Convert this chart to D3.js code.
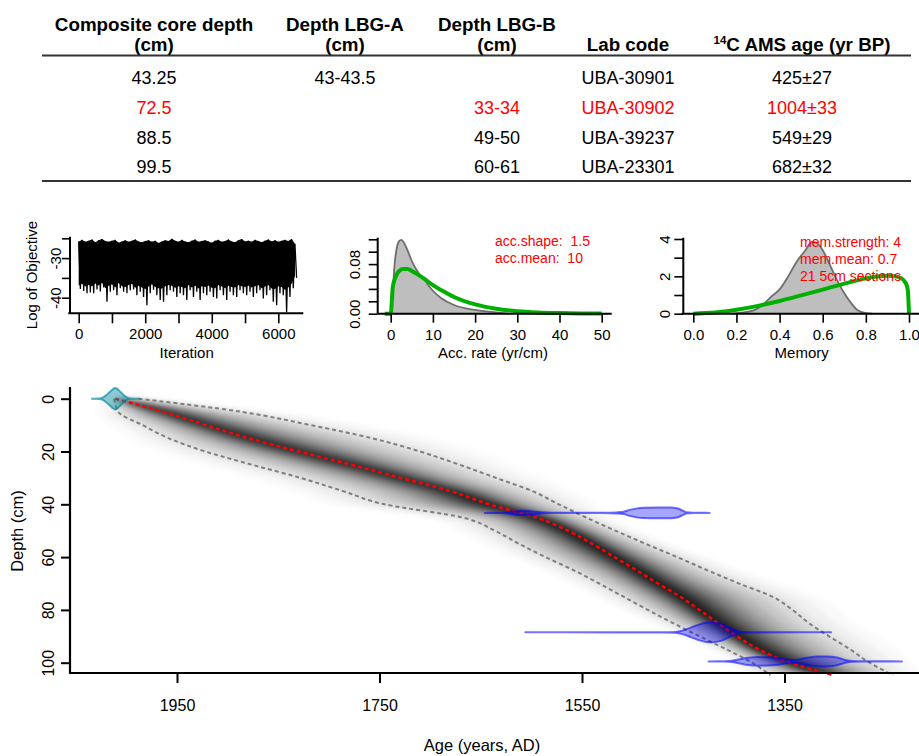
<!DOCTYPE html>
<html><head><meta charset="utf-8">
<script src="https://cdn.jsdelivr.net/npm/d3@7"></script>
<style>body{margin:0;background:#fff;} svg{display:block;font-family:"Liberation Sans",Arial,sans-serif;}</style>
</head><body><svg id="c" width="919" height="756"></svg>
<script>
// ================= DATA =================
// table
const headLine1 = ["Composite core depth", "Depth LBG-A", "Depth LBG-B", "", ""];
const headLine2 = ["(cm)", "(cm)", "(cm)", "Lab code", "C AMS age (yr BP)"];
const compositeDepth = ["43.25", "72.5", "88.5", "99.5"];
const depthA = ["43-43.5", "", "", ""];
const depthB = ["", "33-34", "49-50", "60-61"];
const labCode = ["UBA-30901", "UBA-30902", "UBA-39237", "UBA-23301"];
const c14Age = ["425±27", "1004±33", "549±29", "682±32"];
const rejected = [false, true, false, false];

// MCMC trace (per 100 iterations: top edge, dense-body bottom, lowest spike)
const traceHigh = [-25.8,-25.4,-25.9,-25.6,-25.3,-26.0,-25.5,-25.2,-25.7,-25.9,-25.6,-25.4,-26.1,-25.8,-25.5,-25.9,-25.6,-25.3,-25.8,-26.0,-25.7,-25.5,-25.9,-25.6,-26.2,-25.8,-25.5,-25.7,-25.1,-25.6,-25.9,-25.4,-25.8,-26.0,-25.6,-25.3,-25.9,-25.7,-25.5,-25.8,-26.1,-25.6,-25.4,-25.9,-25.7,-25.3,-25.8,-26.0,-25.5,-25.2,-25.8,-25.6,-25.9,-25.4,-25.7,-26.0,-25.6,-25.3,-25.8,-25.5,-25.9,-25.6,-25.4,-25.7,-25.2,-26.4];
const traceBody = [-36.9,-36.5,-37.2,-36.8,-37.1,-36.4,-36.9,-36.2,-37.6,-37.0,-36.6,-37.4,-36.3,-37.1,-37.3,-36.8,-36.5,-37.5,-37.0,-37.4,-37.8,-37.2,-36.6,-37.3,-37.6,-37.7,-37.1,-36.8,-37.0,-37.5,-37.1,-37.3,-37.6,-36.8,-37.4,-37.0,-37.7,-37.1,-37.3,-36.9,-37.5,-37.6,-36.8,-37.2,-37.6,-37.0,-37.3,-37.4,-36.8,-37.1,-37.3,-37.0,-37.4,-37.1,-36.8,-37.6,-37.2,-36.8,-37.7,-37.8,-37.1,-37.3,-38.0,-37.4,-36.5,-34.5];
const traceLow = [-37.8,-38.3,-38.9,-38.7,-38.9,-37.9,-38.4,-37.4,-41.0,-38.5,-38.1,-39.4,-37.6,-38.5,-38.9,-38.1,-37.9,-39.4,-38.5,-39.8,-41.9,-38.9,-38.0,-39.4,-40.6,-41.0,-39.4,-38.1,-38.5,-39.8,-38.9,-39.4,-40.6,-38.1,-39.8,-38.5,-40.6,-38.9,-39.4,-38.5,-39.8,-40.2,-38.1,-39.4,-40.6,-38.5,-39.4,-39.8,-38.1,-38.9,-39.4,-38.5,-39.8,-38.9,-38.1,-40.2,-39.4,-38.1,-41.0,-41.9,-38.9,-39.4,-43.7,-39.8,-37.6,-35.0];
const traceStep = 100;

// accumulation rate prior (green) and posterior (grey)
const accPriorX = [-1.4,0,0.5,1,2,3,4,5,6,8,10,12,15,20,25,30,35,40,45,50];
const accPriorY = [0,0,0.043,0.056,0.069,0.072,0.072,0.069,0.065,0.056,0.046,0.038,0.027,0.015,0.008,0.004,0.002,0.001,0.0005,0.0003];
const accPostX = [0,0.5,1,1.5,2,2.5,3,4,5,6,7,8,9,10,12,15,20,25,28];
const accPostY = [0,0.04,0.085,0.108,0.117,0.119,0.116,0.102,0.085,0.072,0.062,0.055,0.045,0.037,0.025,0.014,0.006,0.002,0];

// memory prior (green) and posterior (grey)
const memPriorX = [0,0.1,0.2,0.3,0.4,0.5,0.6,0.7,0.8,0.85,0.9,0.95,0.97,0.98,0.99,0.995,1];
const memPriorY = [0,0.06,0.21,0.42,0.68,0.98,1.29,1.61,1.89,1.99,2.03,1.97,1.85,1.72,1.5,1.2,0];
const memPostX = [0.18,0.22,0.28,0.32,0.36,0.4,0.44,0.48,0.52,0.55,0.57,0.6,0.63,0.66,0.7,0.73,0.76,0.8,0.83];
const memPostY = [0,0.05,0.18,0.45,0.9,1.3,2.0,2.8,3.4,3.85,3.8,3.4,2.7,1.95,1.1,0.6,0.2,0.03,0];

// age-depth model: depth (cm), 95% young bound, mean, 95% old bound (yr AD)
const depthGrid = [0,5,10,15,20,25,30,35,40,45,50,55,60,65,70,75,80,85,90,95,100,104.7];
const ageYoung = [2012,2008,1984,1958,1922,1876,1828,1786,1745,1668,1636,1612,1586,1558,1533,1509,1485,1460,1434,1407,1382,1364];
const ageMean  = [2011,1963,1922,1879,1830,1778,1729,1680,1642,1595,1564,1540,1518,1496,1475,1453,1434,1416,1397,1375,1345,1302];
const ageOld   = [1988,1886,1818,1757,1710,1671,1635,1599,1573,1546,1517,1487,1456,1426,1395,1362,1342,1326,1306,1285,1266,1243];

// calibrated dates: [age AD, relative density]
const dateDepths = [0, 43.25, 88.5, 99.5];
const surfaceCal = [[2034,0],[2027,0.02],[2024,0.08],[2020,0.35],[2016,0.7],[2013,0.98],[2011,1.08],[2009,0.98],[2006,0.7],[2003,0.4],[2000,0.15],[1997,0.03],[1987,0]];
const date1Cal = [[1646,0],[1630,0.01],[1622,0.08],[1614,0.2],[1606,0.22],[1598,0.15],[1590,0.06],[1580,0.02],[1560,0.01],[1530,0.01],[1516,0.05],[1509,0.12],[1503,0.3],[1496,0.45],[1490,0.52],[1475,0.54],[1462,0.53],[1456,0.46],[1451,0.25],[1447,0.06],[1440,0.01],[1424,0]];
const date3Cal = [[1606,0],[1520,0.005],[1470,0.01],[1458,0.04],[1450,0.2],[1442,0.5],[1434,0.8],[1426,0.98],[1422,1.0],[1416,0.93],[1410,0.75],[1404,0.45],[1398,0.18],[1392,0.04],[1380,0.01],[1304,0]];
const date4Cal = [[1425,0],[1410,0.01],[1402,0.06],[1394,0.22],[1386,0.37],[1376,0.43],[1366,0.41],[1356,0.33],[1348,0.2],[1342,0.14],[1336,0.2],[1328,0.36],[1318,0.48],[1308,0.5],[1298,0.38],[1290,0.14],[1283,0.03],[1270,0.01],[1234,0]];

// ticks
const ageTicks = [1950, 1750, 1550, 1350];
const depthTicks = [0, 20, 40, 60, 80, 100];
const iterTicks = [0,1000,2000,3000,4000,5000,6000];
const iterLabels = [0,2000,4000,6000];
const objTicks = [-25,-30,-35,-40];
const objLabels = [-30,-40];
const accXTicks = [0,10,20,30,40,50];
const accYTicks = [0,0.02,0.04,0.06,0.08,0.10,0.12];
const accYLabels = [0, 0.08];
const memXTicks = [0,0.2,0.4,0.6,0.8,1.0];
const memYTicks = [0,1,2,3,4];
const memYLabels = [0,2,4];
const accText = ["acc.shape:  1.5", "acc.mean:  10"];
const memText = ["mem.strength: 4", "mem.mean: 0.7", "21 5cm sections"];

// ================= DRAW =================
const svg = d3.select("#c");
const defs = svg.append("defs");
const fam = '"Liberation Sans", Arial, sans-serif';

// ---------- table ----------
const colX = [154, 345, 497, 628, 802];
const tbl = svg.append("g").attr("font-family", fam);
headLine1.forEach((t, i) => {
  if (t) tbl.append("text").attr("x", colX[i]).attr("y", 30.5).attr("text-anchor", "middle")
    .attr("font-weight", "bold").attr("font-size", 18.8).text(t);
});
headLine2.forEach((t, i) => {
  const el = tbl.append("text").attr("x", colX[i]).attr("y", 50.5).attr("text-anchor", "middle")
    .attr("font-weight", "bold").attr("font-size", 18.8);
  if (i === 4) {
    el.append("tspan").attr("font-size", 11.5).attr("dy", -7).text("14");
    el.append("tspan").attr("dy", 7).text(t);
  } else el.text(t);
});
tbl.append("line").attr("x1", 42).attr("x2", 911).attr("y1", 55.5).attr("y2", 55.5).attr("stroke", "#333").attr("stroke-width", 2);
tbl.append("line").attr("x1", 42).attr("x2", 911).attr("y1", 181).attr("y2", 181).attr("stroke", "#333").attr("stroke-width", 2);
const rowY = [83.5, 114, 143.5, 173];
const cols = [compositeDepth, depthA, depthB, labCode, c14Age];
cols.forEach((col, ci) => col.forEach((t, ri) => {
  if (!t) return;
  tbl.append("text").attr("x", colX[ci]).attr("y", rowY[ri]).attr("text-anchor", "middle")
    .attr("font-size", 18).attr("fill", rejected[ri] ? "#ff0000" : "#000").text(t);
}));

// helper to style axes
function styleAxis(g, fs) {
  g.select(".domain").remove();
  g.selectAll(".tick line").attr("stroke", "#000").attr("stroke-width", 1.6);
  g.selectAll(".tick text").attr("font-size", fs).attr("font-family", fam).attr("fill", "#000");
}
function rotateYLabels(g, base) {
  g.selectAll(".tick text").attr("transform", "rotate(-90)").attr("x", 0).attr("y", base)
    .attr("dy", 0).attr("text-anchor", "middle");
}
const green = "#00b000";
const smallTickPad = 5.5, smallTitleY = 358;

// ---------- trace panel ----------
{
  const xT = d3.scaleLinear().domain([0, 6000]).range([78.7, 278.3]);
  const yT = d3.scaleLinear().domain([-25, -40]).range([238.3, 297.7]);
  const g = svg.append("g");
  const area = d3.area().x((d, i) => xT(i * traceStep)).y0((d, i) => yT(traceBody[i])).y1((d, i) => yT(traceHigh[i]));
  g.append("path").attr("d", area(traceHigh)).attr("fill", "#000");
  const zz = [];
  traceHigh.forEach((h, i) => { zz.push([i * traceStep, h]); zz.push([i * traceStep + traceStep / 2, traceLow[i]]); });
  g.append("path").attr("d", d3.line().x(d => xT(d[0])).y(d => yT(d[1]))(zz))
    .attr("fill", "none").attr("stroke", "#000").attr("stroke-width", 1.3);
  g.append("line").attr("x1", 68.3).attr("x2", 303.3).attr("y1", 313.3).attr("y2", 313.3).attr("stroke", "#000").attr("stroke-width", 2);
  g.append("line").attr("x1", 70).attr("x2", 70).attr("y1", 236.7).attr("y2", 313.3).attr("stroke", "#000").attr("stroke-width", 2);
  const ax = g.append("g").attr("transform", "translate(0,313.3)")
    .call(d3.axisBottom(xT).tickValues(iterTicks).tickSize(10).tickPadding(smallTickPad)
      .tickFormat(d => iterLabels.includes(d) ? d : ""));
  styleAxis(ax, 15);
  const ay = g.append("g").attr("transform", "translate(70,0)")
    .call(d3.axisLeft(yT).tickValues(objTicks).tickSize(8).tickFormat(d => objLabels.includes(d) ? d : ""));
  styleAxis(ay, 15); rotateYLabels(ay, -9);
  g.append("text").attr("x", 186.7).attr("y", smallTitleY).attr("text-anchor", "middle").attr("font-size", 15).text("Iteration");
  g.append("text").attr("transform", "translate(37,275) rotate(-90)").attr("text-anchor", "middle").attr("font-size", 15).text("Log of Objective");
}

// ---------- acc rate panel ----------
{
  const xA = d3.scaleLinear().domain([0, 50]).range([390.7, 601.7]);
  const yA = d3.scaleLinear().domain([0, 0.12]).range([313.7, 239.3]);
  const g = svg.append("g");
  const post = accPostX.map((v, i) => [v, accPostY[i]]);
  g.append("path").attr("d", d3.area().x(d => xA(d[0])).y0(yA(0)).y1(d => yA(d[1])).curve(d3.curveMonotoneX)(post))
    .attr("fill", "#bebebe");
  g.append("path").attr("d", d3.line().x(d => xA(d[0])).y(d => yA(d[1])).curve(d3.curveMonotoneX)(post))
    .attr("fill", "none").attr("stroke", "#6e6e6e").attr("stroke-width", 1.8);
  const prior = accPriorX.map((v, i) => [v, accPriorY[i]]);
  g.append("path").attr("d", d3.line().x(d => xA(d[0])).y(d => yA(d[1])).curve(d3.curveMonotoneX)(prior))
    .attr("fill", "none").attr("stroke", green).attr("stroke-width", 4);
  g.append("line").attr("x1", 377.7).attr("x2", 611.7).attr("y1", 313.7).attr("y2", 313.7).attr("stroke", "#000").attr("stroke-width", 2);
  g.append("line").attr("x1", 377.7).attr("x2", 377.7).attr("y1", 237.7).attr("y2", 313.7).attr("stroke", "#000").attr("stroke-width", 2);
  const ax = g.append("g").attr("transform", "translate(0,313.7)")
    .call(d3.axisBottom(xA).tickValues(accXTicks).tickSize(9).tickPadding(smallTickPad + 0.7));
  styleAxis(ax, 15);
  const ay = g.append("g").attr("transform", "translate(377.7,0)")
    .call(d3.axisLeft(yA).tickValues(accYTicks).tickSize(9)
      .tickFormat(d => accYLabels.some(l => Math.abs(l - d) < 1e-9) ? d3.format(".2f")(d) : ""));
  styleAxis(ay, 15); rotateYLabels(ay, -17.7);
  g.append("text").attr("x", 493).attr("y", smallTitleY).attr("text-anchor", "middle").attr("font-size", 15).text("Acc. rate (yr/cm)");
  accText.forEach((t, i) => g.append("text").attr("x", 495).attr("y", 246 + i * 17).attr("font-size", 14).attr("fill", "#ff0000").style("white-space", "pre").text(t));
}

// ---------- memory panel ----------
{
  const xM = d3.scaleLinear().domain([0, 1]).range([693.3, 909]);
  const yM = d3.scaleLinear().domain([0, 4]).range([313.7, 239]);
  const g = svg.append("g");
  const post = memPostX.map((v, i) => [v, memPostY[i]]);
  g.append("path").attr("d", d3.area().x(d => xM(d[0])).y0(yM(0)).y1(d => yM(d[1])).curve(d3.curveMonotoneX)(post))
    .attr("fill", "#bebebe");
  g.append("path").attr("d", d3.line().x(d => xM(d[0])).y(d => yM(d[1])).curve(d3.curveMonotoneX)(post))
    .attr("fill", "none").attr("stroke", "#6e6e6e").attr("stroke-width", 1.8);
  const prior = memPriorX.map((v, i) => [v, memPriorY[i]]);
  g.append("path").attr("d", d3.line().x(d => xM(d[0])).y(d => yM(d[1])).curve(d3.curveMonotoneX)(prior))
    .attr("fill", "none").attr("stroke", green).attr("stroke-width", 4);
  g.append("line").attr("x1", 681.7).attr("x2", 919).attr("y1", 313.7).attr("y2", 313.7).attr("stroke", "#000").attr("stroke-width", 2);
  g.append("line").attr("x1", 683.3).attr("x2", 683.3).attr("y1", 237.7).attr("y2", 313.7).attr("stroke", "#000").attr("stroke-width", 2);
  const ax = g.append("g").attr("transform", "translate(0,313.7)")
    .call(d3.axisBottom(xM).tickValues(memXTicks).tickSize(9).tickPadding(smallTickPad + 0.7).tickFormat(d3.format(".1f")));
  styleAxis(ax, 15);
  const ay = g.append("g").attr("transform", "translate(683.3,0)")
    .call(d3.axisLeft(yM).tickValues(memYTicks).tickSize(9).tickFormat(d => memYLabels.includes(d) ? d : ""));
  styleAxis(ay, 15); rotateYLabels(ay, -13.3);
  g.append("text").attr("x", 801.7).attr("y", smallTitleY).attr("text-anchor", "middle").attr("font-size", 15).text("Memory");
  memText.forEach((t, i) => g.append("text").attr("x", 800).attr("y", 246.5 + i * 17).attr("font-size", 14).attr("fill", "#ff0000").text(t));
}

// ---------- main age-depth panel ----------
{
  const x = d3.scaleLinear().domain([1950, 1350]).range([177, 784.5]);
  const y = d3.scaleLinear().domain([0, 100]).range([398.7, 662.7]);
  const rows = depthGrid.map((d, i) => ({ d, yo: ageYoung[i], m: ageMean[i], o: ageOld[i] }));

  defs.append("clipPath").attr("id", "mainClip").append("rect").attr("x", 71).attr("y", 380).attr("width", 848).attr("height", 292);
  defs.append("clipPath").attr("id", "lineClip").append("rect").attr("x", 71).attr("y", 380).attr("width", 848).attr("height", 297);
  defs.append("filter").attr("id", "blur").attr("x", "-10%").attr("y", "-10%").attr("width", "120%").attr("height", "120%")
    .append("feGaussianBlur").attr("stdDeviation", 2.5);
  const grad = defs.append("linearGradient").attr("id", "cloudGrad").attr("gradientUnits", "userSpaceOnUse")
    .attr("x1", 0).attr("x2", 0).attr("y1", y(0)).attr("y2", y(104.7));
  [[0, 0.85], [0.3, 0.85], [0.42, 1], [1, 1]].forEach(s =>
    grad.append("stop").attr("offset", s[0]).attr("stop-color", "#000").attr("stop-opacity", s[1]));

  const cloud = svg.append("g").attr("clip-path", "url(#mainClip)").append("g").attr("filter", "url(#blur)");
  const bandFrac = [1.5, 1.3, 1.12, 1.0, 0.85, 0.7, 0.56, 0.44, 0.33, 0.23, 0.14, 0.07];
  const bandOp = [0.025, 0.035, 0.045, 0.06, 0.08, 0.1, 0.13, 0.17, 0.22, 0.28, 0.35, 0.35];
  bandFrac.forEach((f, k) => {
    const ar = d3.area().y(r => y(r.d))
      .x0(r => x(r.m + (r.yo - r.m) * f)).x1(r => x(r.m + (r.o - r.m) * f)).curve(d3.curveMonotoneY);
    cloud.append("path").attr("d", ar(rows)).attr("fill", "url(#cloudGrad)").attr("fill-opacity", bandOp[k]);
  });

  const lines = svg.append("g").attr("clip-path", "url(#lineClip)");
  const ln = key => d3.line().y(r => y(r.d)).x(r => x(r[key])).curve(d3.curveMonotoneY)(rows);
  lines.append("path").attr("d", ln("yo")).attr("fill", "none").attr("stroke", "#7f7f7f").attr("stroke-width", 2).attr("stroke-dasharray", "4,3");
  lines.append("path").attr("d", ln("o")).attr("fill", "none").attr("stroke", "#7f7f7f").attr("stroke-width", 2).attr("stroke-dasharray", "4,3");
  lines.append("path").attr("d", ln("m")).attr("fill", "none").attr("stroke", "#ff0000").attr("stroke-width", 2.5).attr("stroke-dasharray", "4,3");

  const h = d3.scaleLinear().domain([0, 1]).range([0, 10]);
  const cals = [surfaceCal, date1Cal, date3Cal, date4Cal];
  cals.forEach((cal, i) => {
    const yc = y(dateDepths[i]);
    const ar = d3.area().x(d => x(d[0])).y0(d => yc + h(d[1])).y1(d => yc - h(d[1])).curve(d3.curveMonotoneX);
    const isSurf = i === 0;
    svg.append("path").attr("d", ar(cal))
      .attr("fill", isSurf ? "rgba(0,140,160,0.45)" : "rgba(0,0,255,0.35)")
      .attr("stroke", isSurf ? "rgba(0,135,155,0.65)" : "rgba(0,0,255,0.55)")
      .attr("stroke-width", 2).attr("stroke-linejoin", "round");
  });

  // axes
  svg.append("line").attr("x1", 70).attr("x2", 919).attr("y1", 673).attr("y2", 673).attr("stroke", "#000").attr("stroke-width", 2.2);
  svg.append("line").attr("x1", 70).attr("x2", 70).attr("y1", 387).attr("y2", 674).attr("stroke", "#000").attr("stroke-width", 2.2);
  const ax = svg.append("g").attr("transform", "translate(0,673)")
    .call(d3.axisBottom(x).tickValues(ageTicks).tickSize(10).tickPadding(16.5).tickFormat(d3.format("d")));
  styleAxis(ax, 16); ax.selectAll(".tick line").attr("stroke-width", 2);
  const ay = svg.append("g").attr("transform", "translate(70,0)")
    .call(d3.axisLeft(y).tickValues(depthTicks).tickSize(9));
  styleAxis(ay, 16); ay.selectAll(".tick line").attr("stroke-width", 2); rotateYLabels(ay, -16);
  svg.append("text").attr("x", 482).attr("y", 751).attr("text-anchor", "middle").attr("font-size", 16.5).text("Age (years, AD)");
  svg.append("text").attr("transform", "translate(23,531) rotate(-90)").attr("text-anchor", "middle").attr("font-size", 16.5).text("Depth (cm)");
}
</script></body></html>
